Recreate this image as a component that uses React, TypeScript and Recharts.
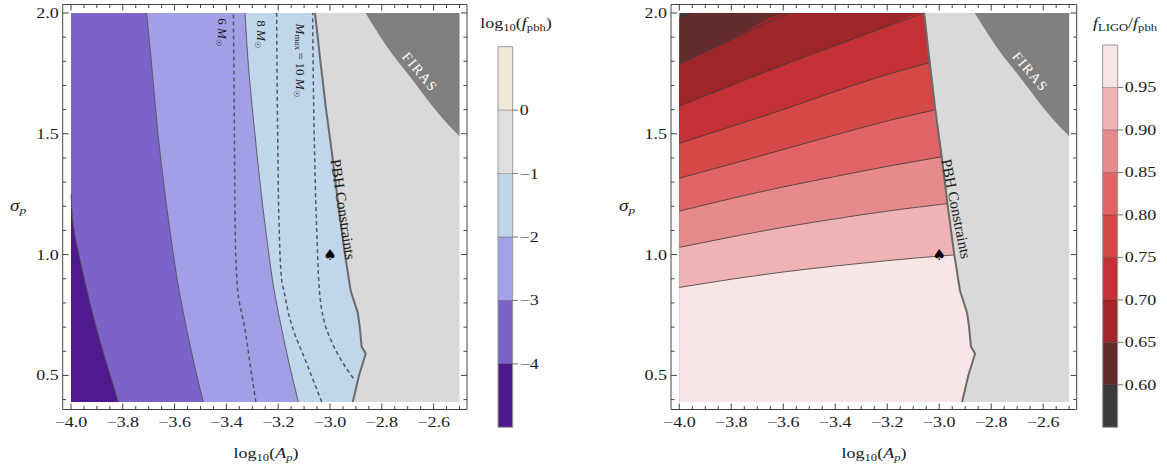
import React from 'react'
import { ComposedChart, Area, Line, Scatter, XAxis, YAxis, ReferenceArea, ReferenceLine } from 'recharts'

const SERIF = '"Liberation Serif", "Times New Roman", Times, serif'
const FRAME = '#444'

// frame ranges
const X_DOMAIN = [-4.032, -2.471]
const Y_DOMAIN = [0.359, 2.035]
const X_MIN = -4.0
const X_MAX = -2.5
const Y_MIN = 0.39
const Y_MAX = 2.0
const RED_END = -2.85

// ticks
const xMajor = [-4.0, -3.8, -3.6, -3.4, -3.2, -3.0, -2.8, -2.6]
const xMinor = [-3.95, -3.9, -3.85, -3.75, -3.7, -3.65, -3.55, -3.5, -3.45, -3.35, -3.3, -3.25, -3.15, -3.1, -3.05, -2.95, -2.9, -2.85, -2.75, -2.7, -2.65, -2.55, -2.5]
const yMajor = [0.5, 1.0, 1.5, 2.0]
const yMinor = [0.4, 0.6, 0.7, 0.8, 0.9, 1.1, 1.2, 1.3, 1.4, 1.6, 1.7, 1.8, 1.9]
const xTicks = [...xMajor, ...xMinor]
const yTicks = [...yMajor, ...yMinor]

// left panel: log10(f_pbh) contours, x as a function of sigma_p
const contourM4 = [
  { y: 0.39, x: -3.817 }, { y: 0.55, x: -3.862 }, { y: 0.69, x: -3.9 }, { y: 0.83, x: -3.933 },
  { y: 1.0, x: -3.969 }, { y: 1.1, x: -3.988 }, { y: 1.25, x: -4.0 },
]
const contourM3 = [
  { y: 0.39, x: -3.489 }, { y: 0.55, x: -3.525 }, { y: 0.69, x: -3.553 }, { y: 0.83, x: -3.579 },
  { y: 1.1, x: -3.618 }, { y: 1.5, x: -3.664 }, { y: 1.78, x: -3.688 }, { y: 2.0, x: -3.708 },
]
const contourM2 = [
  { y: 0.39, x: -3.122 }, { y: 0.55, x: -3.158 }, { y: 0.69, x: -3.186 }, { y: 0.83, x: -3.212 },
  { y: 1.1, x: -3.248 }, { y: 1.5, x: -3.29 }, { y: 1.78, x: -3.315 }, { y: 2.0, x: -3.328 },
]
const mass6 = [
  { y: 0.39, x: -3.286 }, { y: 0.55, x: -3.309 }, { y: 0.69, x: -3.328 }, { y: 0.83, x: -3.354 },
  { y: 0.95, x: -3.362 }, { y: 1.1, x: -3.366 }, { y: 1.5, x: -3.369 }, { y: 2.0, x: -3.373 },
]
const mass8 = [
  { y: 0.39, x: -3.032 }, { y: 0.55, x: -3.09 }, { y: 0.69, x: -3.142 }, { y: 0.76, x: -3.161 },
  { y: 0.83, x: -3.174 }, { y: 0.9, x: -3.187 }, { y: 1.1, x: -3.196 }, { y: 1.5, x: -3.202 }, { y: 2.0, x: -3.206 },
]
const mass10 = [
  { y: 0.488, x: -2.91 }, { y: 0.55, x: -2.949 }, { y: 0.69, x: -3.013 }, { y: 0.83, x: -3.039 },
  { y: 1.1, x: -3.051 }, { y: 1.5, x: -3.061 }, { y: 2.0, x: -3.067 },
]

// shared constraint edges
const pbhEdge = [
  { y: 0.39, x: -2.912 }, { y: 0.5, x: -2.888 }, { y: 0.59, x: -2.862 }, { y: 0.62, x: -2.878 },
  { y: 0.7, x: -2.885 }, { y: 0.76, x: -2.893 }, { y: 0.85, x: -2.92 }, { y: 1.0, x: -2.942 },
  { y: 1.2, x: -2.967 }, { y: 1.4, x: -2.99 }, { y: 1.6, x: -3.015 }, { y: 1.8, x: -3.037 }, { y: 2.0, x: -3.058 },
]
const firasEdge = [
  { y: 1.49, x: -2.5 }, { y: 1.53, x: -2.537 }, { y: 1.6, x: -2.594 }, { y: 1.7, x: -2.665 },
  { y: 1.76, x: -2.708 }, { y: 1.83, x: -2.76 }, { y: 1.9, x: -2.805 }, { y: 2.0, x: -2.863 },
]

// right panel: f_LIGO/f_pbh contours, sigma_p as a function of x
const ligo060 = [{ x: -4.0, y: 1.978 }, { x: -3.958, y: 2.0 }]
const ligo065 = [{ x: -4.0, y: 1.789 }, { x: -3.8, y: 1.89 }, { x: -3.58, y: 2.0 }]
const ligo070 = [
  { x: -4.0, y: 1.615 }, { x: -3.8, y: 1.7 }, { x: -3.6, y: 1.785 }, { x: -3.4, y: 1.865 },
  { x: -3.2, y: 1.945 }, { x: -3.06, y: 2.0 },
]
const ligo075 = [
  { x: -4.0, y: 1.46 }, { x: -3.8, y: 1.53 }, { x: -3.6, y: 1.6 }, { x: -3.4, y: 1.675 },
  { x: -3.2, y: 1.745 }, { x: -3.0, y: 1.805 }, { x: -2.85, y: 1.85 },
]
const ligo080 = [
  { x: -4.0, y: 1.316 }, { x: -3.8, y: 1.375 }, { x: -3.6, y: 1.435 }, { x: -3.4, y: 1.495 },
  { x: -3.2, y: 1.553 }, { x: -3.0, y: 1.603 }, { x: -2.85, y: 1.64 },
]
const ligo085 = [
  { x: -4.0, y: 1.18 }, { x: -3.8, y: 1.232 }, { x: -3.6, y: 1.28 }, { x: -3.4, y: 1.323 },
  { x: -3.2, y: 1.365 }, { x: -3.0, y: 1.403 }, { x: -2.85, y: 1.43 },
]
const ligo090 = [
  { x: -4.0, y: 1.03 }, { x: -3.8, y: 1.073 }, { x: -3.6, y: 1.113 }, { x: -3.4, y: 1.148 },
  { x: -3.2, y: 1.18 }, { x: -3.0, y: 1.207 }, { x: -2.85, y: 1.225 },
]
const ligo095 = [
  { x: -4.0, y: 0.864 }, { x: -3.8, y: 0.898 }, { x: -3.6, y: 0.928 }, { x: -3.4, y: 0.953 },
  { x: -3.2, y: 0.975 }, { x: -3.0, y: 0.994 }, { x: -2.85, y: 1.006 },
]
const ligoTop = [{ x: -4.0, y: 2.0 }, { x: -2.85, y: 2.0 }]

// colour bars
const fpbhLevels = [-5, -4, -3, -2, -1, 0, 1]
const fpbhTicks = [-4, -3, -2, -1, 0]
const fpbhColors = ['#4d1a8e', '#7b63c9', '#a3a1e7', '#c1d5ea', '#dfe0de', '#f1e9d8']
const ligoLevels = [0.55, 0.6, 0.65, 0.7, 0.75, 0.8, 0.85, 0.9, 0.95, 1.0]
const ligoTicks = [0.6, 0.65, 0.7, 0.75, 0.8, 0.85, 0.9, 0.95]
const ligoColors = ['#3b3b3b', '#632c2d', '#9e2629', '#c33135', '#d54848', '#e06366', '#e78a8b', '#f0b3b5', '#f9e5e6']

// annotations (data coordinates)
const leftNotes = [
  { id: 'm6', x: -3.415, y: 1.921 },
  { id: 'm8', x: -3.263, y: 1.913 },
  { id: 'm10', x: -3.112, y: 1.805 },
  { id: 'pbhL', x: -2.95, y: 1.187 },
  { id: 'firas', x: -2.653, y: 1.755 },
  { id: 'spade', x: -3.0, y: 1.0 },
]
const rightNotes = [
  { id: 'pbhR', x: -2.935, y: 1.189 },
  { id: 'firas', x: -2.65, y: 1.756 },
  { id: 'spade', x: -3.0, y: 1.0 },
]

const GRAY = '#d9d9d9'
const FIRAS = '#808080'

const fmt = (v: number, d: number) => v.toFixed(d).replace('-', '\u2212')

function FrameTick(props: any) {
  const { x, y, payload, side } = props
  const v = payload.value
  const horiz = side === 'bottom' || side === 'top'
  const major = horiz ? xMajor.includes(v) : yMajor.includes(v)
  const len = major ? 6 : 3.5
  let line
  if (side === 'bottom') line = <line x1={x} y1={y} x2={x} y2={y - len} stroke={FRAME} />
  else if (side === 'top') line = <line x1={x} y1={y} x2={x} y2={y + len} stroke={FRAME} />
  else if (side === 'left') line = <line x1={x} y1={y} x2={x + len} y2={y} stroke={FRAME} />
  else line = <line x1={x} y1={y} x2={x - len} y2={y} stroke={FRAME} />
  let label = null
  if (major && side === 'bottom') {
    label = (
      <text transform={`translate(${x},${y + 17}) scale(1.2,1)`} textAnchor="middle" fontFamily={SERIF} fontSize={15} fill="#1a1a1a">
        {fmt(v, 1)}
      </text>
    )
  }
  if (major && side === 'left') {
    label = (
      <text transform={`translate(${x - 4},${y + 5}) scale(1.2,1)`} textAnchor="end" fontFamily={SERIF} fontSize={15} fill="#1a1a1a">
        {fmt(v, 1)}
      </text>
    )
  }
  return (
    <g>
      {line}
      {label}
    </g>
  )
}

// vertical layout charts draw the y axis top-down, so they flip it back
const frameAxes = (visible: boolean, flipY: boolean) => {
  const common = {
    type: 'number' as const,
    allowDataOverflow: true,
    interval: 0 as const,
    tickSize: 0,
    tickMargin: 0,
    tickLine: false,
    axisLine: visible ? { stroke: FRAME } : false,
  }
  return [
    <XAxis key="xb" {...common} xAxisId={0} dataKey="x" domain={X_DOMAIN} ticks={xTicks} height={40} tick={visible ? <FrameTick side="bottom" /> : false} />,
    <XAxis key="xt" {...common} xAxisId="top" orientation="top" dataKey="x" domain={X_DOMAIN} ticks={xTicks} height={4} tick={visible ? <FrameTick side="top" /> : false} />,
    <YAxis key="yl" {...common} reversed={flipY} yAxisId={0} dataKey="y" domain={Y_DOMAIN} ticks={yTicks} width={40} tick={visible ? <FrameTick side="left" /> : false} />,
    <YAxis key="yr" {...common} reversed={flipY} yAxisId="right" orientation="right" dataKey="y" domain={Y_DOMAIN} ticks={yTicks} width={4} tick={visible ? <FrameTick side="right" /> : false} />,
  ]
}

function Note(props: any) {
  const { cx, cy, payload } = props
  const base = {
    x: cx,
    y: cy,
    textAnchor: 'middle' as const,
    dominantBaseline: 'central' as const,
    fontFamily: SERIF,
    fill: '#1a1a1a',
  }
  const rot = (a: number) => `rotate(${a} ${cx} ${cy})`
  switch (payload.id) {
    case 'm6':
      return (
        <text {...base} fontSize={13} transform={rot(90)}>
          6 <tspan fontStyle="italic">M</tspan>
          <tspan fontSize={8} dy={4}>☉</tspan>
        </text>
      )
    case 'm8':
      return (
        <text {...base} fontSize={13} transform={rot(90)}>
          8 <tspan fontStyle="italic">M</tspan>
          <tspan fontSize={8} dy={4}>☉</tspan>
        </text>
      )
    case 'm10':
      return (
        <text {...base} fontSize={13} transform={rot(90)}>
          <tspan fontStyle="italic">M</tspan>
          <tspan fontSize={9} dy={3}>max</tspan>
          <tspan dy={-3}>{'\u2009=\u200910 '}</tspan>
          <tspan fontStyle="italic">M</tspan>
          <tspan fontSize={8} dy={4}>☉</tspan>
        </text>
      )
    case 'pbhL':
      return (
        <text {...base} fontSize={15} transform={rot(81.4)}>
          PBH Constraints
        </text>
      )
    case 'pbhR':
      return (
        <text {...base} fontSize={15} transform={rot(78.6)}>
          PBH Constraints
        </text>
      )
    case 'firas':
      return (
        <text {...base} fontSize={14} letterSpacing={1.5} fill="#ffffff" transform={rot(50)}>
          FIRAS
        </text>
      )
    default:
      return (
        <text {...base} fontFamily="DejaVu Sans" fontSize={15} fill="#000">
          ♠
        </text>
      )
  }
}

const MARGIN_L = { top: 0.5, bottom: 16.5, left: 22.7, right: 19 }
const MARGIN_R = { top: 0.5, bottom: 16.5, left: 31, right: 9.3 }

const leftFill = (d: any) => [X_MIN, d.x]
const rightFill = (d: any) => [d.x, X_MAX]
const underFill = (d: any) => [Y_MIN, d.y]
const toTop = (pts: { x: number; y: number }[]) =>
  pts[pts.length - 1].y >= Y_MAX ? [...pts, { x: RED_END, y: Y_MAX }] : pts

function LeftPanel() {
  const bands = [
    { data: pbhEdge, fill: '#c0d6eb', type: 'linear' as const },
    { data: contourM2, fill: '#a29fe6', type: 'monotone' as const },
    { data: contourM3, fill: '#7b63c9', type: 'monotone' as const },
    { data: contourM4, fill: '#4f1a8e', type: 'monotone' as const },
  ]
  return (
    <ComposedChart layout="vertical" width={490} height={466} margin={MARGIN_L}>
      {frameAxes(true, true)}
      {bands.map((b, i) => (
        <Area key={`band-${i}`} data={b.data} dataKey={leftFill} type={b.type} fill={b.fill} fillOpacity={1} stroke="none" isAnimationActive={false} />
      ))}
      <Area data={pbhEdge} dataKey={rightFill} type="linear" fill={GRAY} fillOpacity={1} stroke="none" isAnimationActive={false} />
      <Area data={firasEdge} dataKey={rightFill} type="monotone" fill={FIRAS} fillOpacity={1} stroke="none" isAnimationActive={false} />
      {[contourM4, contourM3, contourM2].map((c, i) => (
        <Line key={`c-${i}`} data={c} dataKey="x" type="monotone" stroke="#555" strokeWidth={0.9} dot={false} activeDot={false} isAnimationActive={false} />
      ))}
      {[mass6, mass8, mass10].map((c, i) => (
        <Line key={`m-${i}`} data={c} dataKey="x" type="monotone" stroke="#4f5668" strokeWidth={1.5} strokeDasharray="4 3" dot={false} activeDot={false} isAnimationActive={false} />
      ))}
      <Line data={pbhEdge} dataKey="x" type="linear" stroke="#6a6a6a" strokeWidth={2} dot={false} activeDot={false} isAnimationActive={false} />
      <Scatter data={leftNotes} shape={(p: any) => <Note {...p} />} isAnimationActive={false} />
    </ComposedChart>
  )
}

function RightPanel() {
  const bands = [
    { data: ligoTop, fill: ligoColors[0] },
    { data: toTop(ligo060), fill: ligoColors[1] },
    { data: toTop(ligo065), fill: ligoColors[2] },
    { data: toTop(ligo070), fill: ligoColors[3] },
    { data: ligo075, fill: ligoColors[4] },
    { data: ligo080, fill: ligoColors[5] },
    { data: ligo085, fill: ligoColors[6] },
    { data: ligo090, fill: ligoColors[7] },
    { data: ligo095, fill: ligoColors[8] },
  ]
  const lines = [ligo060, ligo065, ligo070, ligo075, ligo080, ligo085, ligo090, ligo095]
  return (
    <div style={{ position: 'relative', width: 490, height: 466 }}>
      <div style={{ position: 'absolute', left: 0, top: 0 }}>
        <ComposedChart width={490} height={466} margin={MARGIN_R}>
          {frameAxes(false, false)}
          {bands.map((b, i) => (
            <Area key={`rb-${i}`} data={b.data} dataKey={underFill} type="monotone" fill={b.fill} fillOpacity={1} stroke="none" isAnimationActive={false} />
          ))}
          {lines.map((c, i) => (
            <Line key={`rl-${i}`} data={c} dataKey="y" type="monotone" stroke="#3a3a3a" strokeWidth={0.8} dot={false} activeDot={false} isAnimationActive={false} />
          ))}
        </ComposedChart>
      </div>
      <div style={{ position: 'absolute', left: 0, top: 0 }}>
        <ComposedChart layout="vertical" width={490} height={466} margin={MARGIN_R}>
          {frameAxes(true, true)}
          <Area data={pbhEdge} dataKey={rightFill} type="linear" fill={GRAY} fillOpacity={1} stroke="none" isAnimationActive={false} />
          <Area data={firasEdge} dataKey={rightFill} type="monotone" fill={FIRAS} fillOpacity={1} stroke="none" isAnimationActive={false} />
          <Line data={pbhEdge} dataKey="x" type="linear" stroke="#6a6a6a" strokeWidth={2} dot={false} activeDot={false} isAnimationActive={false} />
          <Scatter data={rightNotes} shape={(p: any) => <Note {...p} />} isAnimationActive={false} />
        </ComposedChart>
      </div>
    </div>
  )
}

function BarTick(props: any) {
  const { x, y, payload, decimals } = props
  return (
    <g>
      <line x1={x} y1={y} x2={x + 5.5} y2={y} stroke="#777" />
      <text transform={`translate(${x + 7},${y + 5}) scale(1.2,1)`} textAnchor="start" fontFamily={SERIF} fontSize={15} fill="#1a1a1a">
        {fmt(payload.value, decimals)}
      </text>
    </g>
  )
}

function ColorBar(props: {
  width: number
  barWidth: number
  marginLeft: number
  top: number
  levels: number[]
  colors: string[]
  ticks: number[]
  decimals: number
}) {
  const { width, barWidth, marginLeft, top, levels, colors, ticks, decimals } = props
  const lo = levels[0]
  const hi = levels[levels.length - 1]
  return (
    <ComposedChart
      width={width}
      height={466}
      data={[{ x: 0 }, { x: 1 }]}
      margin={{ top, bottom: 466 - 427.3, left: marginLeft, right: width - marginLeft - barWidth - 40 }}
    >
      <XAxis type="number" dataKey="x" domain={[0, 1]} hide />
      <YAxis
        type="number"
        orientation="right"
        domain={[lo, hi]}
        allowDataOverflow
        ticks={ticks}
        interval={0}
        width={40}
        axisLine={false}
        tickLine={false}
        tickSize={0}
        tickMargin={0}
        tick={<BarTick decimals={decimals} />}
      />
      {colors.map((c, i) => (
        <ReferenceArea key={`cb-${i}`} x1={0} x2={1} y1={levels[i]} y2={levels[i + 1]} fill={c} fillOpacity={1} stroke="none" ifOverflow="visible" />
      ))}
      {ticks.map((t) => (
        <ReferenceLine key={`cl-${t}`} y={t} stroke="rgba(0,0,0,0.28)" strokeWidth={1} ifOverflow="visible" />
      ))}
      <ReferenceArea x1={0} x2={1} y1={lo} y2={hi} fill="none" fillOpacity={0} stroke="#9a9a9a" strokeWidth={1} ifOverflow="visible" />
    </ComposedChart>
  )
}

function Title(props: { left: number; top: number; size?: number; children: React.ReactNode }) {
  return (
    <div
      style={{
        position: 'absolute',
        left: props.left,
        top: props.top,
        transform: 'translate(-50%, -50%) scaleX(1.2)',
        fontFamily: SERIF,
        fontSize: props.size ?? 15,
        lineHeight: 1,
        whiteSpace: 'nowrap',
        color: '#1a1a1a',
      }}
    >
      {props.children}
    </div>
  )
}

const subStyle = { fontSize: '0.7em', verticalAlign: '-0.3em' }

export default function App() {
  const xTitle = (
    <>
      log<span style={subStyle}>10</span>(<i>A</i>
      <span style={subStyle}>
        <i>p</i>
      </span>
      )
    </>
  )
  const sigma = (
    <>
      <i>σ</i>
      <span style={subStyle}>
        <i>p</i>
      </span>
    </>
  )
  return (
    <div style={{ position: 'absolute', left: 0, top: 0, width: 1167, height: 466, background: '#fff', overflow: 'hidden' }}>
      <div style={{ position: 'absolute', left: 0, top: 0 }}>
        <LeftPanel />
      </div>
      <div style={{ position: 'absolute', left: 480, top: 0 }}>
        <ColorBar width={80} barWidth={14.7} marginLeft={18} top={46.7} levels={fpbhLevels} colors={fpbhColors} ticks={fpbhTicks} decimals={0} />
      </div>
      <div style={{ position: 'absolute', left: 600, top: 0 }}>
        <RightPanel />
      </div>
      <div style={{ position: 'absolute', left: 1085, top: 0 }}>
        <ColorBar width={82} barWidth={15} marginLeft={17.7} top={45} levels={ligoLevels} colors={ligoColors} ticks={ligoTicks} decimals={2} />
      </div>
      <Title left={266} top={455}>{xTitle}</Title>
      <Title left={874} top={455}>{xTitle}</Title>
      <Title left={18} top={207} size={16}>{sigma}</Title>
      <Title left={627} top={207} size={16}>{sigma}</Title>
      <Title left={516} top={25}>
        log<span style={subStyle}>10</span>(<i>f</i>
        <span style={subStyle}>pbh</span>)
      </Title>
      <Title left={1125} top={25}>
        <i>f</i>
        <span style={subStyle}>LIGO</span>/<i>f</i>
        <span style={subStyle}>pbh</span>
      </Title>
    </div>
  )
}
